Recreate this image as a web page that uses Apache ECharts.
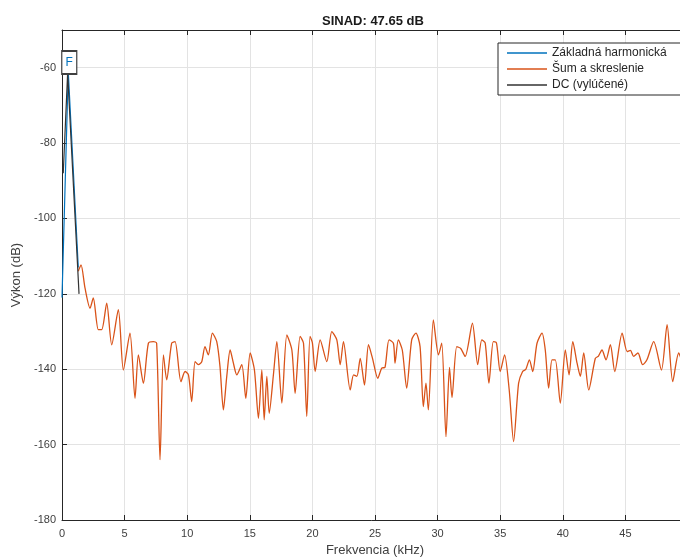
<!DOCTYPE html>
<html>
<head>
<meta charset="utf-8">
<script src="https://cdn.jsdelivr.net/npm/echarts@6/dist/echarts.min.js"></script>
<style>
    html, body { margin: 0; padding: 0; background: #fff; }
    #myChart { width: 680px; height: 560px; }
</style>
</head>
<body>
<div id="myChart"></div>
<script>
    // frekvencia v kHz, vykon v dB
    let fundFreq = [0, 0.5, 1.3];
    let fundDb = [-121, -61, -113];

    let dcFreq = [0.1, 0.45, 1.36];
    let dcDb = [-88, -61.5, -120];

    let noiseFreq = [
        1.30, 1.52, 1.84, 2.24, 2.50, 2.90, 3.17, 3.57, 3.97, 4.50,
        4.90, 5.43, 5.83, 6.10, 6.50, 6.90, 7.30, 7.56, 7.83, 8.10,
        8.36, 8.76, 9.03, 9.50, 9.83, 10.10, 10.36, 10.63, 10.90, 11.16,
        11.42, 11.69, 12.01, 12.36, 12.62, 12.89, 13.16, 13.43, 13.69, 13.96,
        14.36, 14.68, 15.03, 15.37, 15.69, 15.96, 16.15, 16.36, 16.55, 16.90,
        17.16, 17.56, 17.96, 18.36, 18.62, 19.02, 19.29, 19.55, 19.81, 20.00,
        20.22, 20.62, 21.15, 21.55, 21.95, 22.22, 22.48, 23.02, 23.29, 23.55,
        23.82, 24.16, 24.48, 24.80, 25.22, 25.54, 25.80, 26.12, 26.47, 26.60,
        26.86, 27.18, 27.53, 27.93, 28.27, 28.60, 28.86, 29.07, 29.26, 29.66,
        30.07, 30.33, 30.67, 30.95, 31.15, 31.53, 31.85, 32.20, 32.78, 33.20,
        33.53, 33.80, 34.10, 34.45, 34.70, 35.00, 35.35, 35.72, 36.07, 36.47,
        36.79, 37.05, 37.33, 37.60, 37.94, 38.34, 38.60, 38.87, 39.14, 39.40,
        39.80, 40.20, 40.50, 40.80, 41.14, 41.40, 41.67, 42.07, 42.60, 42.85,
        43.13, 43.45, 43.80, 44.15, 44.74, 45.14, 45.40, 45.66, 46.00, 46.38,
        46.72, 47.26, 47.88, 48.33, 48.78, 49.26, 49.60, 50.00
    ];
    let noiseDb = [
        -114, -112.3, -118.5, -123.8, -121.1, -129.5, -129.5, -122.5, -133.5, -124.2,
        -140.2, -130.4, -147.7, -136.2, -143.7, -133.1, -132.7, -133.1, -164, -136.2,
        -142.8, -133.1, -132.7, -143.3, -140.6, -141.5, -148.6, -138, -138.8, -138,
        -134, -136.2, -130.4, -132.7, -139.3, -150.8, -141.9, -134.9, -138.4, -141.5,
        -138.8, -147.7, -135.7, -140.2, -153, -140.2, -153.4, -141.9, -151.7, -141,
        -132.7, -149, -130.9, -134.9, -146.4, -131.3, -133.1, -152.5, -131.3, -133,
        -140.6, -132.2, -138, -130, -132.2, -138.8, -132.7, -145.5, -141.5, -141.9,
        -137.1, -144.2, -133.5, -137.1, -142.4, -139.7, -139.5, -132.2, -133.1, -138.4,
        -132.2, -134.9, -145, -132.2, -130.4, -134, -149.9, -143.7, -150.8, -126.9,
        -136.2, -133.1, -157.9, -139.5, -147.5, -134, -134.5, -136.6, -127.8, -138.8,
        -132.2, -133, -143.7, -132.7, -133, -140.6, -136.2, -145.5, -159.2, -143.7,
        -140.6, -140, -137.5, -140.6, -133.1, -130.4, -134.9, -145, -137.5, -137.5,
        -149, -134.9, -141.5, -132.7, -138.4, -141.9, -135.7, -145.5, -137.1, -136.5,
        -134.9, -137.5, -133.5, -140.6, -130.4, -135.3, -135, -136.6, -135.7, -138.8,
        -137.5, -132.7, -140.2, -128.2, -143.3, -135.7, -138, -137
    ];

    let xTicks = { min: 0, max: 50, interval: 5 };
    let yTicks = { min: -180, max: -50, interval: 20 };

    let seriesNames = ['Základná harmonická', 'Šum a skreslenie', 'DC (vylúčené)'];

    function pairs(xs, ys) {
        return xs.map((x, i) => [x, ys[i]]);
    }

    let axisColor = '#262626';
    let labelColor = '#404040';
    let gridColor = '#e3e3e3';
    let font = 'Liberation Sans, Arial, sans-serif';

    let option = {
        backgroundColor: '#fff',
        animation: false,
        textStyle: { fontFamily: font },
        title: {
            text: 'SINAD: 47.65 dB',
            left: 317,
            top: 10,
            textStyle: { fontSize: 13, fontWeight: 'bold', color: '#1a1a1a', fontFamily: font }
        },
        legend: {
            data: seriesNames,
            orient: 'vertical',
            left: 498,
            top: 43,
            icon: 'rect',
            itemWidth: 40,
            itemHeight: 1.5,
            itemGap: 2,
            padding: [3, 20, 3, 9],
            backgroundColor: '#fff',
            borderColor: axisColor,
            borderWidth: 1,
            borderRadius: 0,
            textStyle: { fontSize: 12, color: '#262626', fontFamily: font, lineHeight: 14 }
        },
        grid: {
            left: 62,
            top: 30,
            width: 626,
            height: 490,
            containLabel: false,
            outerBoundsMode: 'none'
        },
        xAxis: [{
            type: 'value',
            min: xTicks.min,
            max: xTicks.max,
            interval: xTicks.interval,
            name: 'Frekvencia (kHz)',
            nameLocation: 'middle',
            nameGap: 24,
            nameTextStyle: { fontSize: 13, color: labelColor, fontFamily: font },
            axisLine: { onZero: false, lineStyle: { color: axisColor, width: 1 } },
            axisTick: { inside: true, length: 5, lineStyle: { color: axisColor } },
            axisLabel: { color: labelColor, fontSize: 11, margin: 8, showMaxLabel: false },
            splitLine: { show: true, lineStyle: { color: gridColor, width: 1 } }
        }, {
            type: 'value',
            position: 'top',
            min: xTicks.min,
            max: xTicks.max,
            interval: xTicks.interval,
            axisLine: { onZero: false, lineStyle: { color: axisColor, width: 1 } },
            axisTick: { inside: true, length: 5, lineStyle: { color: axisColor } },
            axisLabel: { show: false },
            splitLine: { show: false }
        }],
        yAxis: [{
            type: 'value',
            min: yTicks.min,
            max: yTicks.max,
            interval: yTicks.interval,
            name: 'Výkon (dB)',
            nameLocation: 'middle',
            nameGap: 34,
            nameTextStyle: { fontSize: 13, color: labelColor, fontFamily: font },
            axisLine: { show: true, onZero: false, lineStyle: { color: axisColor, width: 1 } },
            axisTick: { show: true, inside: true, length: 5, lineStyle: { color: axisColor } },
            axisLabel: { color: labelColor, fontSize: 11, margin: 6, showMaxLabel: false },
            splitLine: { show: true, lineStyle: { color: gridColor, width: 1 } }
        }, {
            type: 'value',
            position: 'right',
            min: yTicks.min,
            max: yTicks.max,
            interval: yTicks.interval,
            axisLine: { show: true, onZero: false, lineStyle: { color: axisColor, width: 1 } },
            axisTick: { show: true, inside: true, length: 5, lineStyle: { color: axisColor } },
            axisLabel: { show: false },
            splitLine: { show: false }
        }],
        series: [{
            name: seriesNames[1],
            type: 'line',
            data: pairs(noiseFreq, noiseDb),
            symbol: 'none',
            smooth: 0.25,
            lineStyle: { color: '#D95319', width: 1.3 },
            itemStyle: { color: '#D95319' },
            z: 2
        }, {
            name: seriesNames[0],
            type: 'line',
            data: pairs(fundFreq, fundDb),
            symbol: 'none',
            lineStyle: { color: '#0072BD', width: 1.2 },
            itemStyle: { color: '#0072BD' },
            z: 3,
            markPoint: {
                symbol: 'rect',
                symbolSize: [15, 23],
                symbolOffset: [1, -9],
                itemStyle: { color: '#fff', borderColor: '#404040', borderWidth: 1.5 },
                label: { show: true, formatter: 'F', color: '#0072BD', fontSize: 12, fontFamily: font },
                data: [{ coord: [fundFreq[1], fundDb[1]] }]
            }
        }, {
            name: seriesNames[2],
            type: 'line',
            data: pairs(dcFreq, dcDb),
            symbol: 'none',
            lineStyle: { color: '#333333', width: 1.2 },
            itemStyle: { color: '#333333' },
            z: 4
        }]
    };

    let myChart = echarts.init(document.getElementById('myChart'));
    myChart.setOption(option);
</script>
</body>
</html>
